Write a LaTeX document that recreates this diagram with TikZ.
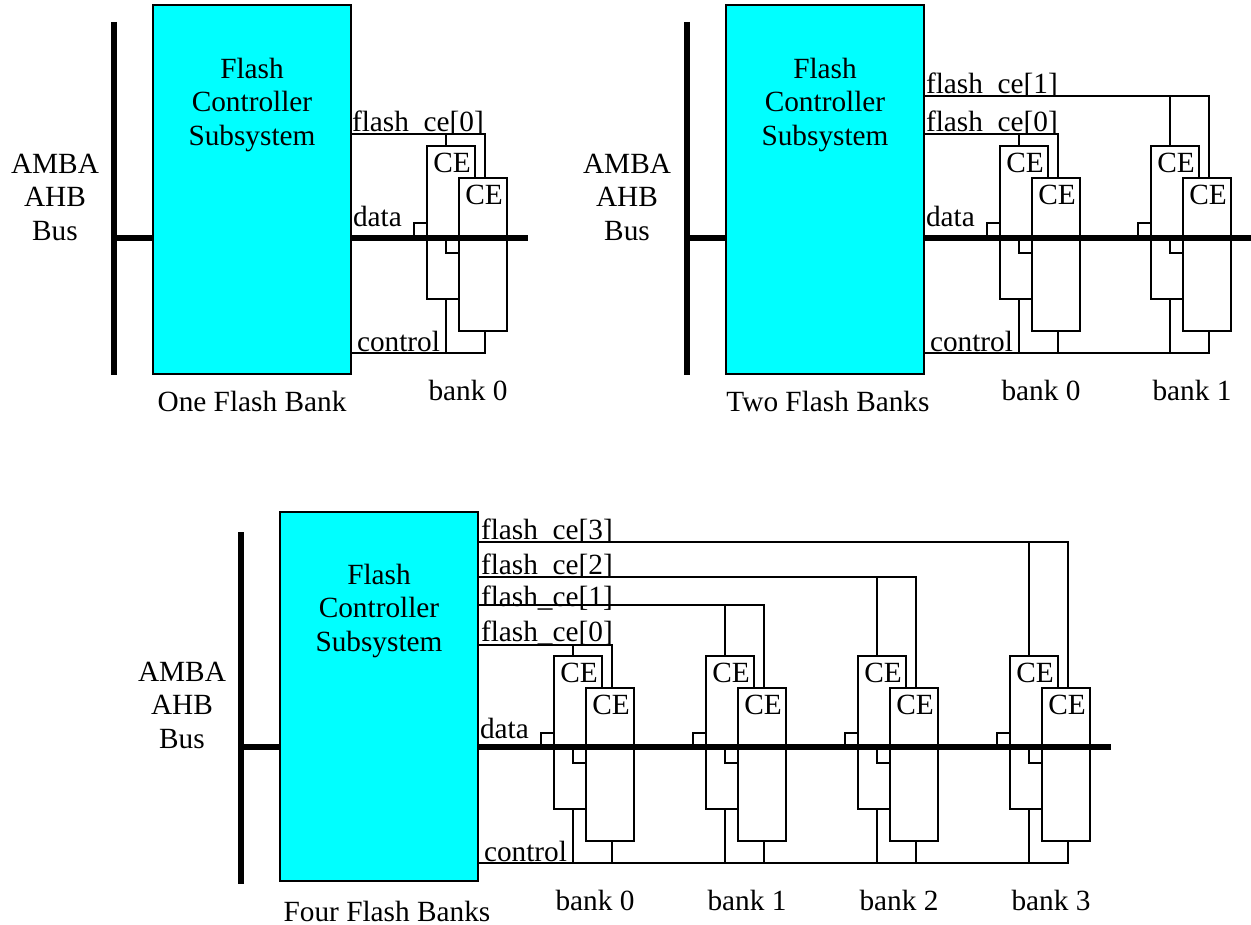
\documentclass[tikz,border=0pt]{standalone}
\usepackage{fontspec}
\setmainfont{Liberation Serif}
\tikzset{
  base/.style={x=1pt,y=-1pt},
  lbl/.style={inner sep=0pt,outer sep=0pt,font=\fontsize{29.3}{33.5}\selectfont,align=center},
  sig/.style={lbl,anchor=base west},
  wire/.style={draw=black,line width=1.7pt},
  thick bus/.style={draw=black,line width=5.5pt},
  ctrlbox/.style={draw=black,fill=cyan,line width=1.7pt,anchor=north west,minimum width=198pt,minimum height=369pt,inner sep=0pt,outer sep=0pt},
  membox/.style={draw=black,fill=white,line width=1.7pt,anchor=north west,minimum width=48pt,minimum height=153pt,inner sep=0pt,outer sep=0pt},
}
\definecolor{cyan}{RGB}{0,255,255}
% #1 name, #2 dx, #3 dy, #4 controller node, #5 flash line y, #6 label
\newcommand{\flashbank}[6]{%
  \coordinate (#1f) at (#4.east |- 0,#5);
  \coordinate (#1c) at (#4.east |- 0,353+#3);
  \coordinate (#1p) at (446+#2,146+#3);
  \coordinate (#1q) at (485+#2,178+#3);
  \coordinate (#1r) at (446+#2,299+#3);
  \coordinate (#1u) at (485+#2,331+#3);
  \draw[wire] (#1f) -| (#1q);
  \draw[wire] (#1f) -| (#1p);
  \draw[wire] (#1c) -| (#1r);
  \draw[wire] (#1c) -| (#1u);
  \node[membox] (#1a) at (427+#2,146+#3) {};
  \coordinate (#1s) at (414+#2,237+#3);
  \coordinate (#1t) at (#1a.west |- 0,223+#3);
  \draw[wire] (#1s) |- (#1t);
  \node[membox] (#1b) at (459+#2,178+#3) {};
  \coordinate (#1v) at (446+#2,237+#3);
  \coordinate (#1w) at (#1b.west |- 0,253+#3);
  \draw[wire] (#1v) |- (#1w);
  \node[lbl] (#1x) at (452+#2,163+#3) {CE};
  \node[lbl] (#1y) at (484+#2,195+#3) {CE};
  \node[lbl] (#1z) at (468+#2,390+#3) {#6};
}
\begin{document}
\begin{tikzpicture}[base]
\useasboundingbox (0,0) rectangle (1251,925);
% one bank
\node[ctrlbox] (c1) at (153,5) {};
\node[lbl] (c1t) at (252,104.5) {Flash\\Controller\\Subsystem};
\node[lbl] (a1) at (55,197) {AMBA\\AHB\\Bus};
\node[lbl] (n1) at (252,401) {One Flash Bank};
\flashbank{pa}{0}{0}{c1}{134}{bank 0}
\coordinate (t1) at (114,22); \coordinate (b1) at (114,375);
\coordinate (j1) at (114,238); \coordinate (e1) at (528,238);
\draw[thick bus] (t1) -- (b1);
\draw[thick bus] (j1) -- (c1.west |- j1);
\draw[thick bus] (c1.east |- e1) -- (e1);
\node[sig] (f1) at (352,132) {flash\_ce[0]};
\node[sig] (d1) at (353,227) {data};
\node[sig] (k1) at (357,352) {control};
% two banks
\node[ctrlbox] (c2) at (726,5) {};
\node[lbl] (c2t) at (825,104.5) {Flash\\Controller\\Subsystem};
\node[lbl] (a2) at (627,197) {AMBA\\AHB\\Bus};
\node[lbl] (n2) at (828,401) {Two Flash Banks};
\flashbank{qb}{724}{0}{c2}{96}{bank 1}
\flashbank{qa}{573}{0}{c2}{134}{bank 0}
\coordinate (t2) at (687,22); \coordinate (b2) at (687,375);
\coordinate (j2) at (687,238); \coordinate (e2) at (1251,238);
\draw[thick bus] (t2) -- (b2);
\draw[thick bus] (j2) -- (c2.west |- j2);
\draw[thick bus] (c2.east |- e2) -- (e2);
\node[sig] (f2a) at (926,132) {flash\_ce[0]};
\node[sig] (f2b) at (926,94) {flash\_ce[1]};
\node[sig] (d2) at (926,227) {data};
\node[sig] (k2) at (930,352) {control};
% four banks
\node[ctrlbox] (c3) at (280,512) {};
\node[lbl] (c3t) at (379,610.5) {Flash\\Controller\\Subsystem};
\node[lbl] (a3) at (182,705) {AMBA\\AHB\\Bus};
\node[lbl] (n3) at (387,911) {Four Flash Banks};
\flashbank{rd}{583}{510}{c3}{542}{bank 3}
\flashbank{rc}{431}{510}{c3}{577}{bank 2}
\flashbank{rb}{279}{510}{c3}{605}{bank 1}
\flashbank{ra}{127}{510}{c3}{645}{bank 0}
\coordinate (t3) at (241,532); \coordinate (b3) at (241,884);
\coordinate (j3) at (241,747); \coordinate (e3) at (1111,747);
\draw[thick bus] (t3) -- (b3);
\draw[thick bus] (j3) -- (c3.west |- j3);
\draw[thick bus] (c3.east |- e3) -- (e3);
\node[sig] (f3d) at (481,539) {flash\_ce[3]};
\node[sig] (f3c) at (481,574) {flash\_ce[2]};
\node[sig] (f3b) at (481,606) {flash\_ce[1]};
\node[sig] (f3a) at (481,641) {flash\_ce[0]};
\node[sig] (d3) at (480,738) {data};
\node[sig] (k3) at (484,861) {control};
\end{tikzpicture}
\end{document}
